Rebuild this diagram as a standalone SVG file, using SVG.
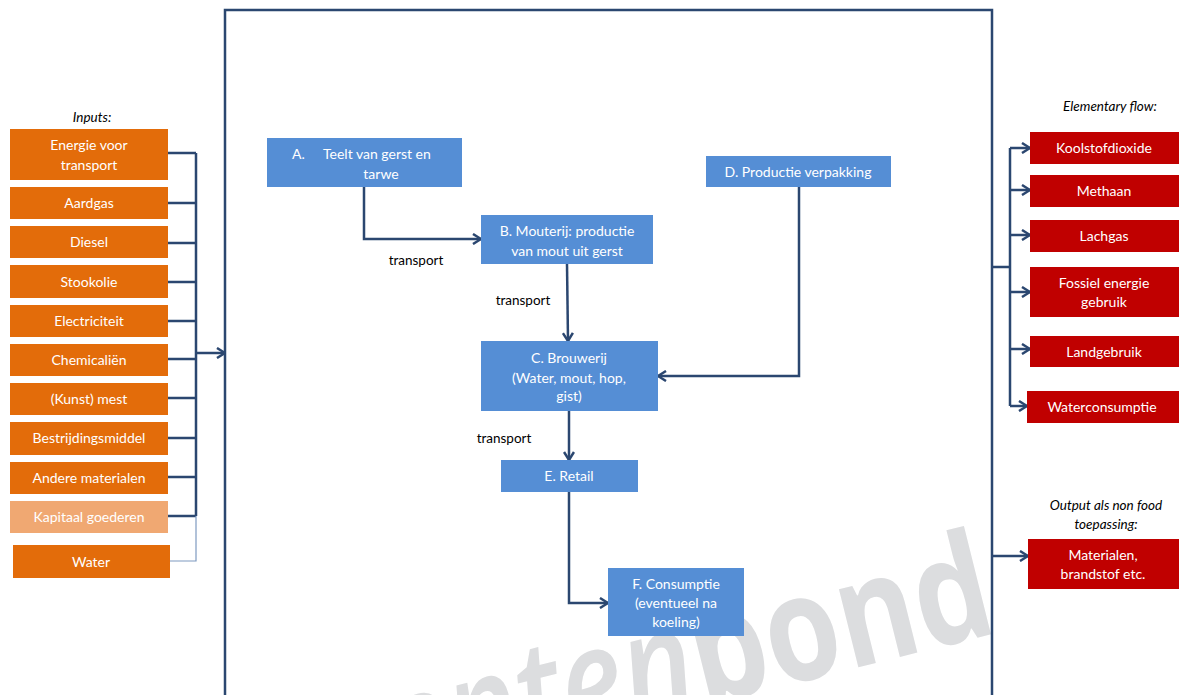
<svg xmlns="http://www.w3.org/2000/svg" width="1179" height="695" viewBox="0 0 1179 695">
<defs>
<style>
.t{font-family:Lato,"Liberation Sans",sans-serif;font-size:14px;fill:#ffffff;text-anchor:middle}
.lbl{font-family:Lato,"Liberation Sans",sans-serif;font-size:13.5px;fill:#000000;text-anchor:middle}
.it{font-family:Lato,"Liberation Sans",sans-serif;font-size:13.5px;font-style:italic;fill:#000000;text-anchor:middle}
.in{fill:#e36c0a}
.inl{fill:#f0a872}
.pr{fill:#558ed5}
.out{fill:#c00000}
.c{fill:none;stroke:#2b4770;stroke-width:2.5}
.thin{fill:none;stroke:#7e9ac0;stroke-width:1.2}
</style>
<marker id="arr" viewBox="0 0 10 12" refX="9" refY="6" markerWidth="10" markerHeight="12" markerUnits="userSpaceOnUse" orient="auto">
<path d="M1,1 L9,6 L1,11" fill="none" stroke="#2b4770" stroke-width="2.5"/>
</marker>
</defs>
<rect width="1179" height="695" fill="#ffffff"/>
<g id="watermark" fill="#dcdddf" font-family="'Open Sans',sans-serif" font-size="147">
<text x="0" y="0" text-anchor="end" transform="translate(1000 632) rotate(-14) scale(0.82 1)"><tspan font-style="italic" font-weight="600">Consumenten</tspan><tspan font-weight="bold">bond</tspan></text>
</g>
<g id="frame"><path class="c" stroke-width="2" d="M225,695 V10 H992 V695"/></g>
<g id="connectors">
<path class="c" d="M168,153 H196 M168,203 H196 M168,243 H196 M168,282 H196 M168,321 H196 M168,359 H196 M168,398 H196 M168,438 H196 M168,477 H196 M168,516 H196 M196,153 V516"/>
<path class="thin" d="M196,516 V561 H170"/>
<path class="c" d="M196,353 H225" marker-end="url(#arr)"/>
<path class="c" d="M364,187 V239 H481" marker-end="url(#arr)"/>
<path class="c" d="M567,264 L568,341" marker-end="url(#arr)"/>
<path class="c" d="M799,187 V376 H658" marker-end="url(#arr)"/>
<path class="c" d="M569,411 V460" marker-end="url(#arr)"/>
<path class="c" d="M569,492 V603 H608" marker-end="url(#arr)"/>
<path class="c" d="M992,267 H1010 M1010,148 V406"/>
<path class="c" d="M1010,148 H1030" marker-end="url(#arr)"/>
<path class="c" d="M1010,190 H1030" marker-end="url(#arr)"/>
<path class="c" d="M1010,235 H1030" marker-end="url(#arr)"/>
<path class="c" d="M1010,292 H1030" marker-end="url(#arr)"/>
<path class="c" d="M1010,349 H1030" marker-end="url(#arr)"/>
<path class="c" d="M1010,406 H1027" marker-end="url(#arr)"/>
<path class="c" d="M992,556 H1028" marker-end="url(#arr)"/>
<text class="lbl" x="416" y="265">transport</text>
<text class="lbl" x="523" y="305">transport</text>
<text class="lbl" x="504" y="443">transport</text>
</g>
<g id="labels">
<text class="it" x="92" y="122">Inputs:</text>
<text class="it" x="1110" y="111">Elementary flow:</text>
<text class="it" x="1106" y="510">Output als non food</text>
<text class="it" x="1106" y="529">toepassing:</text>
</g>
<g id="in-energie"><rect class="in" x="10" y="129" width="158" height="51"/><text class="t" x="89" y="150">Energie voor</text><text class="t" x="89" y="170">transport</text></g>
<g id="in-aardgas"><rect class="in" x="10" y="187" width="158" height="32"/><text class="t" x="89" y="208">Aardgas</text></g>
<g id="in-diesel"><rect class="in" x="10" y="226" width="158" height="32"/><text class="t" x="89" y="247">Diesel</text></g>
<g id="in-stookolie"><rect class="in" x="10" y="265" width="158" height="33"/><text class="t" x="89" y="287">Stookolie</text></g>
<g id="in-electriciteit"><rect class="in" x="10" y="305" width="158" height="32"/><text class="t" x="89" y="326">Electriciteit</text></g>
<g id="in-chemicalien"><rect class="in" x="10" y="344" width="158" height="32"/><text class="t" x="89" y="365">Chemicaliën</text></g>
<g id="in-mest"><rect class="in" x="10" y="383" width="158" height="32"/><text class="t" x="89" y="404">(Kunst) mest</text></g>
<g id="in-bestrijding"><rect class="in" x="10" y="422" width="158" height="33"/><text class="t" x="89" y="443">Bestrijdingsmiddel</text></g>
<g id="in-andere"><rect class="in" x="10" y="462" width="158" height="32"/><text class="t" x="89" y="483">Andere materialen</text></g>
<g id="in-kapitaal"><rect class="inl" x="10" y="501" width="158" height="32"/><text class="t" x="89" y="522">Kapitaal goederen</text></g>
<g id="in-water"><rect class="in" x="13" y="545" width="157" height="33"/><text class="t" x="91" y="567">Water</text></g>
<g id="node-a"><rect class="pr" x="267" y="138" width="195" height="49"/><text class="t" x="292" y="159" style="text-anchor:start">A.</text><text class="t" x="323" y="159" style="text-anchor:start">Teelt  van gerst en</text><text class="t" x="381" y="179">tarwe</text></g>
<g id="node-b"><rect class="pr" x="481" y="215" width="172" height="49"/><text class="t" x="567" y="236">B. Mouterij: productie</text><text class="t" x="567" y="256">van mout uit gerst</text></g>
<g id="node-d"><rect class="pr" x="706" y="156" width="185" height="31"/><text class="t" x="798" y="177">D. Productie  verpakking</text></g>
<g id="node-c"><rect class="pr" x="481" y="341" width="177" height="70"/><text class="t" x="569" y="363">C. Brouwerij</text><text class="t" x="569" y="383">(Water,  mout, hop,</text><text class="t" x="569" y="401">gist)</text></g>
<g id="node-e"><rect class="pr" x="501" y="460" width="137" height="32"/><text class="t" x="569" y="481">E. Retail</text></g>
<g id="node-f"><rect class="pr" x="608" y="568" width="136" height="68"/><text class="t" x="676" y="589">F. Consumptie</text><text class="t" x="676" y="608">(eventueel na</text><text class="t" x="676" y="627">koeling)</text></g>
<g id="out-co2"><rect class="out" x="1030" y="132" width="149" height="32"/><text class="t" x="1104" y="153">Koolstofdioxide</text></g>
<g id="out-methaan"><rect class="out" x="1030" y="175" width="149" height="32"/><text class="t" x="1104" y="196">Methaan</text></g>
<g id="out-lachgas"><rect class="out" x="1030" y="220" width="149" height="32"/><text class="t" x="1104" y="241">Lachgas</text></g>
<g id="out-fossiel"><rect class="out" x="1030" y="267" width="149" height="50"/><text class="t" x="1104" y="288">Fossiel energie</text><text class="t" x="1104" y="307">gebruik</text></g>
<g id="out-land"><rect class="out" x="1030" y="336" width="149" height="31"/><text class="t" x="1104" y="357">Landgebruik</text></g>
<g id="out-water"><rect class="out" x="1027" y="391" width="152" height="32"/><text class="t" x="1102" y="412">Waterconsumptie</text></g>
<g id="out-materialen"><rect class="out" x="1028" y="539" width="151" height="50"/><text class="t" x="1103" y="560">Materialen,</text><text class="t" x="1103" y="579">brandstof etc.</text></g>
</svg>
